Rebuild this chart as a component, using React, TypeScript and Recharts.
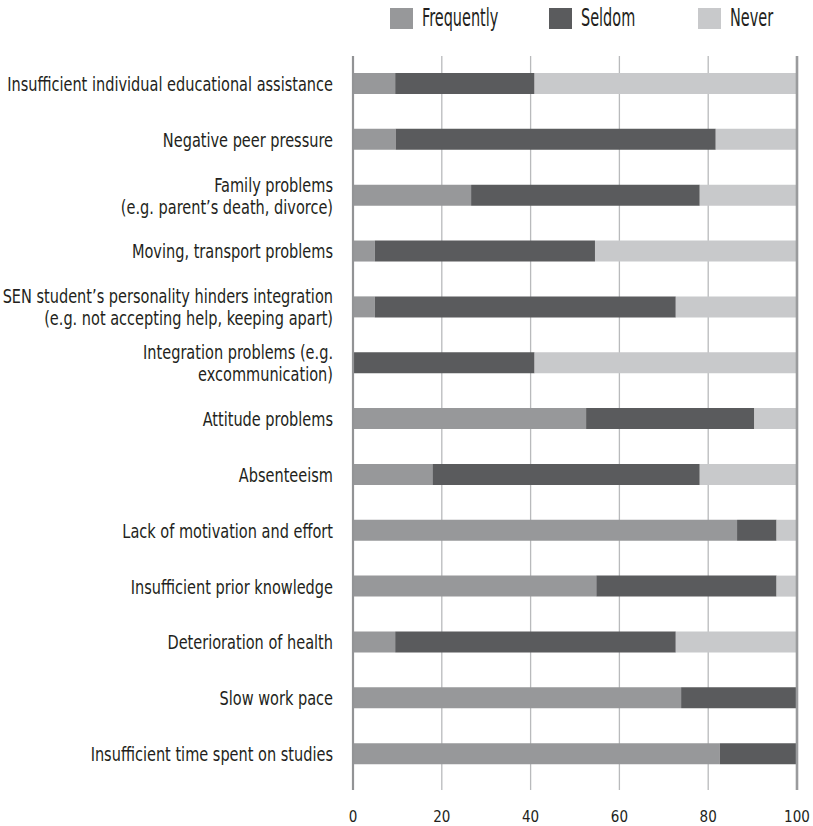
import React from 'react';
import { BarChart, Bar, XAxis, YAxis, CartesianGrid, ReferenceLine } from 'recharts';

const categories = [
  'Insufficient individual educational assistance',
  'Negative peer pressure',
  'Family problems\n(e.g. parent\u2019s death, divorce)',
  'Moving, transport problems',
  'SEN student\u2019s personality hinders integration\n(e.g. not accepting help, keeping apart)',
  'Integration problems (e.g.\nexcommunication)',
  'Attitude problems',
  'Absenteeism',
  'Lack of motivation and effort',
  'Insufficient prior knowledge',
  'Deterioration of health',
  'Slow work pace',
  'Insufficient time spent on studies',
];

const frequently = [9.5, 9.6, 26.6, 4.9, 4.9, 0, 52.5, 17.9, 86.5, 54.8, 9.5, 73.9, 82.6];
const seldom = [31.4, 72.1, 51.5, 49.6, 67.8, 40.9, 37.9, 60.2, 8.9, 40.6, 63.2, 26.1, 17.4];
const never = [59.1, 18.3, 21.9, 45.5, 27.3, 59.1, 9.6, 21.9, 4.6, 4.6, 27.3, 0, 0];

const xTicks = [0, 20, 40, 60, 80, 100];
const seriesKeys = ['frequently', 'seldom', 'never'];
const seriesNames = ['Frequently', 'Seldom', 'Never'];
const seriesColors = ['#97989a', '#5a5b5d', '#c8c9cb'];

const data = categories.map((name, i) => ({
  name,
  frequently: frequently[i],
  seldom: seldom[i],
  never: never[i],
}));

const FONT = "'Liberation Sans Narrow', 'DejaVu Sans Condensed', sans-serif";
const TEXT_COLOR = '#231f20';
const LABEL_SQUEEZE = 0.85;
const LEGEND_SQUEEZE = 0.67;

const YTick = (props: any) => {
  const { x, y, payload } = props;
  const lines = String(payload.value).split('\n');
  const lh = 22;
  const startY = y - ((lines.length - 1) * lh) / 2 + 7;
  return (
    <g transform={`translate(${x - 12},${startY}) scale(${LABEL_SQUEEZE},1)`}>
      <text x={0} y={0} textAnchor="end" fontFamily={FONT} fontSize={19} fill={TEXT_COLOR}>
        {lines.map((l, i) => (
          <tspan key={i} x={0} dy={i === 0 ? 0 : lh}>
            {l}
          </tspan>
        ))}
      </text>
    </g>
  );
};

const XTick = (props: any) => {
  const { x, y, payload } = props;
  return (
    <text x={x} y={y} dy={24} textAnchor="middle" fontFamily={FONT} fontSize={15} fill={TEXT_COLOR}>
      {payload.value}
    </text>
  );
};

const LegendBox = () => {
  const widths = [159, 149, 120];
  return (
    <div
      style={{
        position: 'absolute',
        left: 390,
        top: 8,
        display: 'flex',
        alignItems: 'center',
        fontFamily: FONT,
        color: TEXT_COLOR,
      }}
    >
      {seriesNames.map((n, i) => (
        <div key={n} style={{ width: widths[i], display: 'flex', alignItems: 'center', height: 21 }}>
          <span style={{ display: 'inline-block', width: 23, height: 21, background: seriesColors[i] }} />
          <span
            style={{
              display: 'inline-block',
              marginLeft: 9,
              fontSize: 24,
              lineHeight: '21px',
              transform: `scale(${LEGEND_SQUEEZE},1)`,
              transformOrigin: 'left center',
              whiteSpace: 'nowrap',
            }}
          >
            {n}
          </span>
        </div>
      ))}
    </div>
  );
};

export default function App() {
  return (
    <div style={{ position: 'absolute', left: 0, top: 0, width: 813, height: 826, background: '#fff' }}>
      <LegendBox />
      <BarChart
        width={813}
        height={826}
        data={data}
        layout="vertical"
        margin={{ top: 56, right: 16, bottom: 6, left: 0 }}
        barSize={21}
      >
        <CartesianGrid horizontal={false} vertical stroke="#b9babc" strokeWidth={1.3} />
        <XAxis
          type="number"
          domain={[0, 100]}
          ticks={xTicks}
          axisLine={false}
          tickLine={false}
          height={30}
          tick={<XTick />}
          interval={0}
        />
        <YAxis
          type="category"
          dataKey="name"
          width={353}
          axisLine={false}
          tickLine={false}
          tick={<YTick />}
          interval={0}
          padding={{ top: 0, bottom: 8 }}
        />
        {seriesKeys.map((k, i) => (
          <Bar key={k} dataKey={k} name={seriesNames[i]} stackId="a" fill={seriesColors[i]} isAnimationActive={false} />
        ))}
        <ReferenceLine x={0} stroke="#929395" strokeWidth={2.2} />
        <ReferenceLine x={100} stroke="#9a9b9d" strokeWidth={2.6} />
      </BarChart>
    </div>
  );
}
